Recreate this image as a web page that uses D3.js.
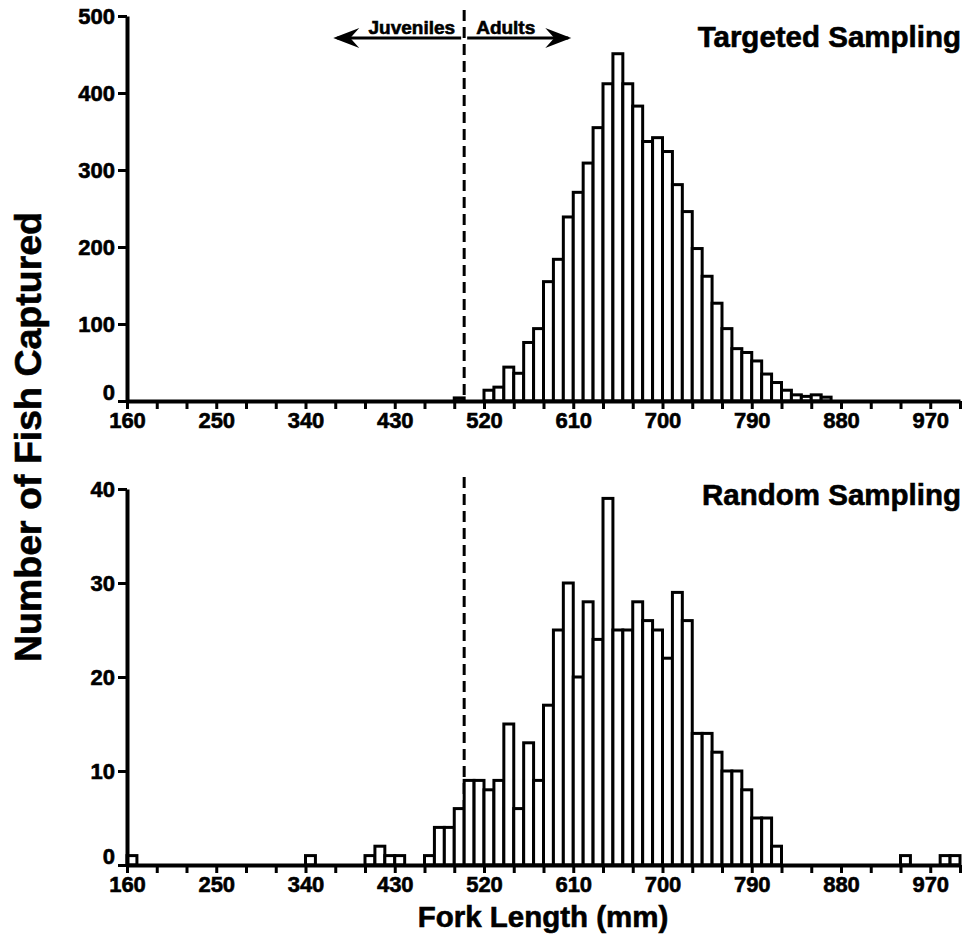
<!DOCTYPE html>
<html>
<head>
<meta charset="utf-8">
<script src="https://cdn.jsdelivr.net/npm/d3@7"></script>
<style>
  body { margin: 0; background: #fff; }
  text { font-family: "Liberation Sans", Arial, Helvetica, sans-serif; font-weight: bold; fill: #000;
         stroke: #000; stroke-width: 0.6px; }
</style>
</head>
<body>
<svg id="chart" width="968" height="940"></svg>
<script>

// bin width of the fork length classes (mm)
var binWidth = 10

// Targeted sampling: lower edge of each 10 mm bin and number of fish
var targetedBins = [490, 520, 530, 540, 550, 560, 570, 580, 590, 600, 610, 620, 630, 640, 650, 660, 670, 680, 690,
                    700, 710, 720, 730, 740, 750, 760, 770, 780, 790, 800, 810, 820, 830, 840, 850, 860]
var targetedCounts = [4, 14, 18, 44, 36, 76, 94, 155, 184, 239, 271, 309, 355, 412, 451, 412, 383, 337, 342,
                      324, 281, 246, 198, 162, 127, 94, 68, 63, 52, 35, 24, 14, 8, 6, 8, 5]

// Random sampling
var randomBins = [160, 340, 400, 410, 420, 430, 460, 470, 480, 490, 500, 510, 520, 530, 540, 550, 560, 570, 580, 590,
                  600, 610, 620, 630, 640, 650, 660, 670, 680, 690, 700, 710, 720, 730, 740, 750, 760, 770, 780, 790,
                  800, 810, 940, 980, 990]
var randomCounts = [1, 1, 1, 2, 1, 1, 1, 4, 4, 6, 9, 9, 8, 9, 15, 6, 13, 9, 17, 25,
                    30, 20, 28, 24, 39, 25, 25, 28, 26, 25, 22, 29, 26, 14, 14, 12, 10, 10, 8, 5,
                    5, 2, 1, 1, 1]

var xTickValues = d3.range(160, 1001, 30)
var xTickLabels = [160, 250, 340, 430, 520, 610, 700, 790, 880, 970]
var targetedYTicks = [0, 100, 200, 300, 400, 500]
var randomYTicks = [0, 10, 20, 30, 40]

var adultLength = 500   // juvenile / adult split (mm)

var svg = d3.select("#chart")

// Set the ranges
var x = d3.scaleLinear().domain([160, 1000]).range([127, 960])

function drawPanel(bins, counts, yMax, yTicks, bottom, top, title, titleY, dashTop) {
    var y = d3.scaleLinear().domain([0, yMax]).range([bottom, top])

    var data = bins.map(function(d, i) { return {x0: d, x1: d + binWidth, n: counts[i]} })

    // juvenile / adult boundary
    svg.append("line")
        .attr("x1", x(adultLength)).attr("x2", x(adultLength))
        .attr("y1", dashTop).attr("y2", bottom)
        .attr("stroke", "#000")
        .attr("stroke-width", 3)
        .attr("stroke-dasharray", "11,6")

    // bars
    svg.append("g").selectAll("rect")
        .data(data)
        .enter().append("rect")
            .attr("x", function(d) { return x(d.x0) })
            .attr("width", function(d) { return x(d.x1) - x(d.x0) })
            .attr("y", function(d) { return y(d.n) })
            .attr("height", function(d) { return bottom - y(d.n) })
            .attr("fill", "#fff")
            .attr("stroke", "#000")
            .attr("stroke-width", 3)

    // Add the X Axis
    var xAxis = d3.axisBottom(x)
        .tickValues(xTickValues)
        .tickSize(8)
        .tickSizeOuter(0)
        .tickPadding(3)
        .tickFormat(function(d) { return xTickLabels.indexOf(d) >= 0 ? d : "" })

    var gx = svg.append("g")
        .attr("transform", "translate(0," + bottom + ")")
        .call(xAxis)
    gx.select(".domain").attr("stroke-width", 4)
    gx.selectAll(".tick line").attr("stroke-width", 3)
    gx.selectAll("text").style("font-size", "22px").attr("fill", "#000")

    // Add the Y Axis
    var gy = svg.append("g")
        .attr("transform", "translate(" + x(160) + ",0)")
        .call(d3.axisLeft(y).tickValues(yTicks).tickSize(9).tickSizeOuter(0).tickPadding(3))
    gy.select(".domain").attr("stroke-width", 4)
    gy.selectAll(".tick line").attr("stroke-width", 3)
    gy.selectAll("text").style("font-size", "22px").attr("fill", "#000")
    // lift the zero label off the x labels
    gy.selectAll(".tick").filter(function(d) { return d === 0 }).select("text").attr("y", -9)

    svg.append("text")
        .attr("x", 961)
        .attr("y", titleY)
        .attr("text-anchor", "end")
        .style("font-size", "29.5px")
        .text(title)
}

drawPanel(targetedBins, targetedCounts, 500, targetedYTicks, 401, 16, "Targeted Sampling", 47, 10)
drawPanel(randomBins, randomCounts, 40, randomYTicks, 865, 489, "Random Sampling", 505, 477)

// Juveniles / Adults arrows
var arrowY = 38
function arrowHead(tip, dir) {
    // concave arrow head pointing in dir (-1 left, +1 right)
    var l = 26, h = 10, n = 9
    return "M" + tip + "," + arrowY +
           "L" + (tip - dir * l) + "," + (arrowY - h) +
           "L" + (tip - dir * (l - n)) + "," + arrowY +
           "L" + (tip - dir * l) + "," + (arrowY + h) + "Z"
}
svg.append("line")
    .attr("x1", x(372)).attr("x2", x(adultLength) - 3)
    .attr("y1", arrowY).attr("y2", arrowY)
    .attr("stroke", "#000").attr("stroke-width", 3)
svg.append("line")
    .attr("x1", x(adultLength) + 3).attr("x2", x(605))
    .attr("y1", arrowY).attr("y2", arrowY)
    .attr("stroke", "#000").attr("stroke-width", 3)
svg.append("path").attr("d", arrowHead(x(368), -1)).attr("fill", "#000")
svg.append("path").attr("d", arrowHead(x(608), 1)).attr("fill", "#000")

svg.append("text")
    .attr("x", x(adultLength) - 9).attr("y", 34)
    .attr("text-anchor", "end")
    .style("font-size", "19px")
    .text("Juveniles")
svg.append("text")
    .attr("x", x(adultLength) + 12).attr("y", 34)
    .style("font-size", "19px")
    .text("Adults")

// axis titles
svg.append("text")
    .attr("transform", "translate(41,437) rotate(-90)")
    .attr("text-anchor", "middle")
    .style("font-size", "37.5px")
    .text("Number of Fish Captured")

svg.append("text")
    .attr("x", 543)
    .attr("y", 927)
    .attr("text-anchor", "middle")
    .style("font-size", "29.5px")
    .text("Fork Length (mm)")

</script>
</body>
</html>
